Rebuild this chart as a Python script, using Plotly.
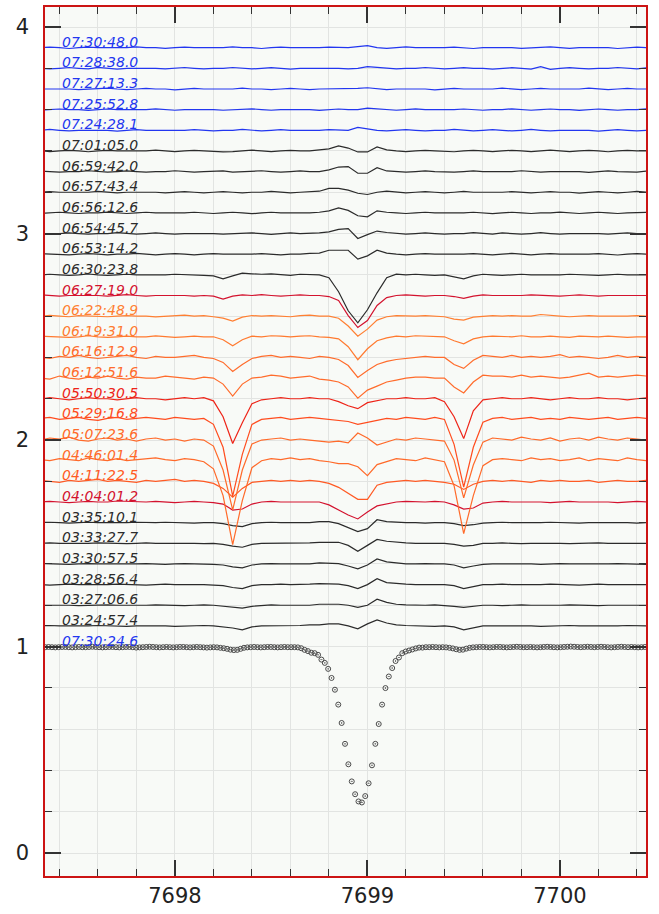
import numpy as np
import plotly.graph_objects as go

# ---------------- data ----------------
# common wavelength grid of the offset spectra (Angstrom)
WAVE_START, WAVE_STEP, WAVE_N = 7697.30, 0.05, 64
# reference spectrum (circles) grid
REF_START, REF_STEP, REF_N = 7697.326, 0.0175, 179

# flux deviations from continuum, in units of 0.001, one list per spectrum (bottom -> top)
F_032457 = [0, 2, 0, 0, -2, 0, 2, 0, 0, -2, 0, 0, 2, 0, -2, 0,
            0, 2, 0, -5, -10, -19, -5, 0, 0, 2, 0, 2, 5, 5, 10, 10,
            0, -14, 10, 29, 14, 5, 2, 0, 0, -2, 0, -5, -19, -10, 0, 0,
            0, 2, 0, 0, -2, 0, 0, 2, 0, 0, -2, 0, 0, 2, 0, 0]
F_032706 = [0, 0, 2, 0, -2, 0, 0, 2, 0, 0, -2, 0, 2, 0, 0, -2,
            0, 2, 0, -5, -10, -14, -5, 0, 2, 0, 0, 2, 0, 5, 5, 5,
            0, -10, 0, 29, 14, 5, 2, 0, 0, 2, 0, -5, -10, -5, 0, 0,
            -2, 0, 2, 0, 0, -2, 0, 2, 0, 0, -2, 0, 0, 2, 0, 0]
F_032856 = [0, -2, 0, 2, 0, 0, -2, 0, 2, 0, 0, -2, 0, 2, 0, 0,
            2, 0, -2, -5, -14, -19, -5, 0, 0, 2, 0, 0, 2, 5, 5, 2,
            -5, -19, 0, 29, 10, 5, 2, 0, 0, -2, 0, -5, -19, -10, 0, 0,
            2, 0, 0, -2, 0, 2, 0, 0, -2, 0, 2, 0, 0, -2, 0, 0]
F_033057 = [2, 0, 0, -2, 0, 2, 0, 0, -2, 0, 0, 2, 0, -2, 0, 2,
            0, 0, -2, -5, -14, -19, -5, 0, 2, 0, 0, 2, 0, 5, 5, 2,
            -10, -24, -5, 24, 10, 5, 0, 0, 2, 0, 0, -5, -19, -10, -2, 0,
            0, 2, 0, 0, -2, 0, 2, 0, 0, -2, 0, 0, 2, 0, 0, -2]
F_033327 = [0, 2, 0, 0, -2, 0, 2, 0, 0, -2, 0, 2, 0, 0, 2, 0,
            0, -2, 0, -5, -14, -19, -5, 0, 0, 2, 0, 0, 2, 5, 5, 5,
            -10, -39, -10, 19, 10, 5, 2, 0, 0, -2, 0, -5, -14, -10, 0, 0,
            2, 0, -2, 0, 0, 2, 0, -2, 0, 0, 2, 0, 0, -2, 0, 0]
F_033510 = [0, 2, 0, -2, 0, 2, 0, 0, -2, 0, 2, 0, 0, 2, 0, 0,
            -2, 0, 0, -5, -14, -19, -5, 0, 2, 0, 0, 2, 0, 5, 5, -5,
            -24, -43, -29, 14, 5, 2, 0, 0, -2, 0, 0, -5, -14, -10, -2, 0,
            2, 0, 0, -2, 0, 2, 0, 0, -2, 0, 0, 2, 0, 0, -2, 0]
F_040401 = [0, 3, 0, -3, 0, 3, 0, 0, 5, 3, 0, 0, 3, 0, -3, 0,
            3, 0, -3, -10, -39, -34, -10, 0, 3, 0, 0, 3, 0, 0, -14, -39,
            -63, -82, -48, -19, -10, 0, 3, 0, 0, 3, 0, -14, -34, -29, -5, 0,
            3, 0, 0, 3, 0, -3, 0, 3, 0, 0, 3, 0, -3, 0, 3, 0]
F_041122 = [5, 0, -5, 5, 0, 5, 10, 0, 5, 0, -5, 5, 0, 5, 10, 0,
            5, 0, -10, -34, -77, -34, -5, 0, 5, 0, 5, 0, 5, 0, -10, -29,
            -58, -87, -87, -19, -5, 0, 5, 0, 5, 0, -5, -14, -39, -14, 0, 5,
            0, 5, 0, -5, 5, 0, 5, 0, 0, 5, -5, 0, 5, 0, 0, 5]
F_044601 = [5, 0, 10, 5, 0, 14, 5, 0, 10, 0, 5, 10, 14, 5, 0, 10,
            5, -5, -39, -169, -406, -193, -34, 0, 10, 5, 14, 5, 10, 0, -5, -14,
            -14, -29, -72, -19, -5, 10, 5, 0, 14, 5, -5, -121, -353, -169, -24, 5,
            10, 5, 0, 14, 5, 10, 0, 5, 14, 0, 10, 5, 0, 14, 5, 0]
F_050723 = [0, 10, 5, 14, 0, -5, 5, 10, 0, 5, -5, 5, 10, 0, 5, -5,
            5, 0, -29, -145, -338, -145, -19, 0, 5, 10, 0, 5, 0, -5, -10, -5,
            -14, 34, 10, -24, -10, 5, 0, 10, 5, 0, -5, -97, -280, -121, -10, 10,
            5, 0, 14, 5, 0, 10, -5, 5, 10, 0, 14, 5, 0, 10, 5, 0]
F_052916 = [5, 10, 0, 5, 10, 0, -5, 5, 10, 0, 5, 10, 5, 0, 10, 5,
            0, 5, -24, -135, -372, -169, -24, 0, 5, 10, 0, 5, 10, 5, 0, -5,
            -10, -24, -14, -5, 5, 0, 10, 5, 0, 10, 0, -121, -328, -135, -14, 5,
            10, 0, 5, 10, 0, 5, 0, 10, 5, 0, 5, 10, 0, 5, 10, 5]
F_055030 = [0, 5, 0, -5, 0, 5, 0, 0, -5, 0, 5, 0, 0, -5, 0, 5,
            0, 5, -10, -87, -217, -116, -24, -5, 0, 5, 0, 0, 5, 0, 0, -14,
            -34, -48, -19, -10, 0, 0, 5, 0, 0, 5, -14, -87, -193, -58, -5, 0,
            5, 0, 0, 5, 0, -5, 0, 5, 0, 0, 5, 0, 0, -5, 0, 5]
F_061251 = [0, -5, 10, 0, -5, 5, 0, 10, 0, -5, 5, 0, 0, 10, 5, 0,
            -5, 5, 0, -29, -87, -29, 0, 5, 14, 10, 0, 5, 10, -5, -10, -19,
            -43, -97, -58, -39, -19, -10, 0, 5, 5, 0, 0, -43, -72, -19, 14, 10,
            10, 5, 14, 5, 10, 5, 0, 5, 14, 24, 5, 10, 5, 10, 14, 10]
F_061612 = [0, -5, 5, 0, 10, 0, -5, 0, 5, 10, 0, -5, 5, 0, 0, 5,
            10, 0, -5, -24, -68, -34, -5, 5, 10, 0, 5, 0, -5, 5, 0, -10,
            -39, -97, -63, -34, -19, -10, -5, 0, 5, 0, 0, -34, -53, -14, 10, 5,
            0, 10, 0, 5, 0, 5, 14, 0, 5, 0, -5, 0, 10, 0, 5, 0]
F_061931 = [3, 0, 0, -3, 0, 5, 0, -3, 0, 3, 0, 0, 4, 0, -3, 0,
            3, 0, 0, -14, -43, -14, 3, 0, 5, 3, 0, 3, 5, 0, -3, -10,
            -48, -111, -58, -19, -5, 3, 0, 5, 3, 0, 0, -19, -34, -10, 0, 3,
            3, 0, 5, 0, 0, 3, 0, -3, 3, 0, 0, 3, 0, -3, 0, 0]
F_062248 = [0, 4, 0, -3, 3, 0, 0, -3, 0, 3, 0, 0, -4, 0, 3, 5,
            0, 3, -3, -10, -24, -5, 3, 0, 3, 0, -3, 3, 5, 0, 0, -10,
            -48, -97, -63, -19, -3, 3, 0, 0, 3, 0, -3, -14, -19, -5, 0, 3,
            0, 3, 0, 0, 8, 3, 0, -3, 0, 3, 0, 0, -3, 0, 3, 0]
F_062719 = [3, 0, -3, 0, 0, 3, 0, -3, 0, 4, 0, -3, 0, 0, 3, 0,
            -3, 0, -3, -17, -3, 3, 0, 4, 0, -3, 0, 3, 0, 0, -5, -24,
            -97, -155, -121, -48, -10, 0, 3, 0, -3, 0, 0, -5, -14, -3, 3, 0,
            0, -3, 0, 3, 0, 0, -3, 0, 3, 0, -3, 0, 0, 3, 0, 0]
F_063023 = [0, 3, 0, -3, 0, 4, 0, -3, 0, 3, 0, 0, -3, 0, 3, 0,
            0, -3, -5, -19, -5, 8, 5, 3, 5, 0, -3, 3, 0, 0, -14, -82,
            -174, -232, -169, -87, -14, 3, 0, 3, 0, -3, 0, -10, -19, -5, 3, 0,
            -3, 0, 3, 0, 0, -3, 0, 3, 0, 0, -3, 0, 3, 0, 0, 0]
F_065314 = [3, 0, 0, -3, 0, 3, 0, -3, 0, 0, 4, 0, -3, 0, 3, 0,
            -3, 0, 3, 0, 0, -3, 0, 3, 0, -3, 0, 0, 4, 5, 19, 19,
            19, -24, -8, 19, 5, 0, -3, 0, 3, 0, 0, -3, 0, 3, 0, -3,
            0, 4, 0, -3, 0, 3, 0, 0, -3, 0, 3, 0, -4, 0, 3, 0]
F_065445 = [0, -3, 0, 3, 0, -3, 0, 0, 4, 0, -3, 0, 3, 0, -3, 0,
            0, 3, 0, -3, 0, 0, 3, 0, -4, 0, 3, 0, 0, 3, 8, 20,
            24, -24, -5, 12, 5, 0, -3, 0, 3, 0, -3, 0, 0, 4, 0, -3,
            3, 0, -3, 0, 4, 0, -3, 0, 0, 3, 0, -3, 0, 3, 0, 0]
F_065612 = [-3, 0, 3, 0, -3, 0, 0, 4, 0, -3, 0, 3, 0, 0, -3, 0,
            3, 0, -3, 0, 3, 0, -4, 0, 3, 0, 0, -3, 0, 3, 10, 24,
            12, -14, -19, 10, 3, 0, -3, 0, 3, 0, 0, -3, 0, 3, 0, -4,
            0, 3, 0, -3, 0, 0, 4, 0, -3, 0, 3, 0, -3, 0, 0, 3]
F_065743 = [0, 3, 0, 0, -3, 0, 4, 0, -3, 0, 0, 3, 0, -3, 0, 3,
            0, -3, 0, 3, 0, -3, 0, 0, 4, 0, -3, 0, 3, 5, 19, 19,
            10, -5, -11, 0, 5, 0, -3, 0, 3, 0, -3, 0, 4, 0, 0, -3,
            0, 3, 0, -3, 0, 3, 0, 0, -4, 0, 3, 0, -3, 0, 4, 0]
F_065942 = [3, 0, -3, 0, 0, 4, 0, -3, 0, 3, 0, -3, 0, 0, 4, 0,
            -3, 0, 0, 3, -3, 0, 0, 4, 0, -3, 0, 3, 0, 0, 8, 22,
            24, -8, -8, 19, 3, 0, -3, 0, 3, 0, -3, -3, 0, 3, 0, 0,
            -3, 0, 4, 0, -3, 0, 0, 3, 0, -4, 0, 3, 0, 0, -3, 3]
F_070105 = [0, -3, 0, 3, 0, -4, 0, 3, 0, 0, -3, 0, 4, 0, -3, 0,
            3, 0, -3, -5, -3, 0, 4, 0, -3, 0, 3, 0, 0, 5, 10, 24,
            14, -5, -5, 19, 5, 0, -3, 0, 3, 0, -3, -4, 0, 3, 0, -3,
            0, 3, 0, -3, 0, 4, 0, -3, 0, 3, 0, -4, 0, 3, 0, 0]
F_072428 = [0, 4, 0, -3, 0, 0, 3, 0, -4, 0, 3, 0, 0, -3, 0, 0,
            3, 0, -3, 0, 0, 4, 0, -3, 0, 3, 0, 0, -3, 0, 3, 0,
            0, 14, 6, 0, -3, 0, 3, 0, -3, 0, 0, 4, 0, -3, 0, 3,
            0, -3, 0, 4, 0, -3, 0, 0, 3, 0, -4, 0, 3, 0, -3, 0]
F_072552 = [-3, 0, 3, 0, 0, -4, 0, 3, 0, 0, -3, 0, 4, 0, -3, 0,
            0, 3, 0, -3, 0, 0, 4, 0, -3, 0, 0, 3, 0, -4, 0, 3,
            0, 0, 7, 3, 0, -3, 0, 4, 0, 0, -3, 0, 3, 0, -3, 0,
            0, 4, 0, -3, 0, 3, 0, 0, -4, 0, 3, 0, -3, 0, 0, 4]
F_072713 = [0, 0, 3, 0, -3, 0, 0, 4, 0, -3, 0, 3, 0, 0, -4, 0,
            3, 0, 0, -3, 0, 4, 0, 0, -3, 0, 3, 0, -3, 0, 0, 3,
            0, 3, 6, 0, -3, 0, 0, 3, 0, -4, 0, 3, 0, 0, -3, 0,
            4, 0, -3, 0, 3, 0, 0, -3, 0, 4, 0, -3, 0, 3, 0, 0]
F_072838 = [0, -3, 0, 4, 0, -3, 5, 0, -4, 0, 0, 3, 0, -3, 0, 4,
            0, -3, 0, 0, 4, 0, -3, 0, 3, 0, -4, 0, 0, 3, 0, 0,
            -3, 0, 8, 4, 0, -3, 0, 0, 4, 0, -3, 0, 3, 0, 0, -4,
            0, 3, 0, -4, 8, -5, 0, 3, 0, -3, 0, 0, 4, 0, -3, 3]
F_073048 = [0, 3, 0, -4, 0, 3, 0, 0, -3, 0, 4, 0, 0, -3, 0, 3,
            0, 0, -3, 0, 4, 0, 0, -4, 0, 3, 0, 0, -3, 0, 3, 0,
            0, 5, 10, 0, -3, 0, 4, 0, 0, -3, 0, 3, 0, -4, 0, 0,
            3, 0, -3, 0, 0, 4, 0, -3, 0, 0, 3, 0, -4, 0, 3, 0]

# reference spectrum shown with circles (normalised flux)
REF_FLUX = [0.997, 0.998, 0.997, 0.996, 0.997, 0.998, 0.998, 0.997, 0.996, 0.997,
            0.998, 0.997, 0.997, 0.998, 0.999, 0.998, 0.997, 0.996, 0.997, 0.998,
            0.998, 0.997, 0.996, 0.997, 0.998, 0.998, 0.997, 0.995, 0.996, 0.997,
            0.998, 0.999, 0.998, 0.997, 0.996, 0.997, 0.998, 0.997, 0.996, 0.997,
            0.998, 0.998, 0.997, 0.996, 0.997, 0.998, 0.997, 0.996, 0.995, 0.996,
            0.997, 0.996, 0.994, 0.992, 0.989, 0.985, 0.983, 0.984, 0.989, 0.994,
            0.996, 0.997, 0.998, 0.997, 0.996, 0.997, 0.998, 0.998, 0.997, 0.996,
            0.997, 0.998, 0.997, 0.997, 0.997, 0.996, 0.992, 0.984, 0.978, 0.970,
            0.968, 0.960, 0.937, 0.921, 0.892, 0.848, 0.791, 0.719, 0.630, 0.529,
            0.430, 0.347, 0.285, 0.250, 0.245, 0.276, 0.338, 0.425, 0.529, 0.625,
            0.719, 0.799, 0.855, 0.896, 0.930, 0.947, 0.968, 0.976, 0.981, 0.986,
            0.991, 0.995, 0.995, 0.997, 0.997, 0.998, 0.997, 0.996, 0.997, 0.996,
            0.994, 0.991, 0.987, 0.984, 0.985, 0.990, 0.994, 0.996, 0.997, 0.998,
            0.998, 0.997, 0.996, 0.997, 0.998, 0.998, 0.997, 0.996, 0.997, 0.998,
            0.999, 0.998, 0.997, 0.997, 0.998, 0.997, 0.996, 0.997, 0.998, 0.999,
            0.998, 0.997, 0.996, 0.997, 0.998, 0.999, 1.000, 0.999, 0.998, 0.997,
            0.998, 0.999, 0.998, 0.997, 0.998, 0.999, 0.998, 0.997, 0.996, 0.997,
            0.998, 0.999, 0.998, 0.997, 0.998, 0.997, 0.996, 0.997, 0.998]
REF_LABEL = "07:30:24.6"

# bottom -> top
LABELS = ["03:24:57.4", "03:27:06.6", "03:28:56.4", "03:30:57.5", "03:33:27.7", "03:35:10.1",
          "04:04:01.2", "04:11:22.5", "04:46:01.4", "05:07:23.6", "05:29:16.8", "05:50:30.5",
          "06:12:51.6", "06:16:12.9", "06:19:31.0", "06:22:48.9", "06:27:19.0", "06:30:23.8",
          "06:53:14.2", "06:54:45.7", "06:56:12.6", "06:57:43.4", "06:59:42.0", "07:01:05.0",
          "07:24:28.1", "07:25:52.8", "07:27:13.3", "07:28:38.0", "07:30:48.0"]
SERIES = [F_032457, F_032706, F_032856, F_033057, F_033327, F_033510,
          F_040401, F_041122, F_044601, F_050723, F_052916, F_055030,
          F_061251, F_061612, F_061931, F_062248, F_062719, F_063023,
          F_065314, F_065445, F_065612, F_065743, F_065942, F_070105,
          F_072428, F_072552, F_072713, F_072838, F_073048]
OFFSET_STEP = 0.1

BLACK, BLUE, CRIMSON = "#2b2b2b", "#2236f0", "#d3122e"
COLORS = [BLACK] * 6 + [CRIMSON, "#ff5a24", "#ff6a2a", "#ff6a2a", "#ff4c1e", "#ee2418",
                        "#ff6c2c", "#ff6c2c", "#ff7a30", "#ff7f32", CRIMSON, BLACK] + [BLACK] * 6 + [BLUE] * 5

# ---------------- figure ----------------
wave = np.round(WAVE_START + WAVE_STEP * np.arange(WAVE_N), 4)
ref_wave = np.round(REF_START + REF_STEP * np.arange(REF_N), 4)

fig = go.Figure()
fig.add_trace(go.Scatter(x=ref_wave, y=REF_FLUX, mode="markers",
                         marker=dict(symbol="circle-open-dot", size=5, color="#4a4a4a",
                                     line=dict(width=1, color="#4a4a4a")),
                         hoverinfo="skip"))

annotations = [dict(x=7697.403, y=1.0, text=REF_LABEL, showarrow=False, xanchor="left",
                    yanchor="bottom", yshift=-4,
                    font=dict(family="DejaVu Sans", size=14, color=BLUE, style="italic"))]

for i, (lab, vals, col) in enumerate(zip(LABELS, SERIES, COLORS)):
    off = OFFSET_STEP * (i + 1)
    y = 1.0 + np.array(vals) / 1000.0 + off
    fig.add_trace(go.Scatter(x=wave, y=y, mode="lines",
                             line=dict(color=col, width=1.2), hoverinfo="skip"))
    annotations.append(dict(x=7697.403, y=1.0 + off, text=lab, showarrow=False,
                            xanchor="left", yanchor="bottom", yshift=-4,
                            font=dict(family="DejaVu Sans", size=14, color=col, style="italic")))

axis_common = dict(showline=True, linecolor="#cc1414", linewidth=1.5, mirror="allticks",
                   ticks="inside", ticklen=16, tickwidth=1.5, tickcolor="#333333",
                   showgrid=True, gridcolor="#e2e4e2", gridwidth=1, zeroline=False,
                   tickfont=dict(family="DejaVu Sans", size=21, color="#222222"))

fig.update_xaxes(range=[7697.325, 7700.447], tick0=7698, dtick=1,
                 minor=dict(tick0=7698, dtick=0.2, ticks="inside", ticklen=7, tickwidth=1,
                            tickcolor="#333333", showgrid=True, gridcolor="#e2e4e2"),
                 **axis_common)
fig.update_yaxes(range=[-0.111, 4.097], tick0=0, dtick=1, ticklabelstandoff=10,
                 minor=dict(tick0=0, dtick=0.2, ticks="inside", ticklen=7, tickwidth=1,
                            tickcolor="#333333", showgrid=True, gridcolor="#e2e4e2"),
                 **axis_common)

fig.update_layout(width=659, height=914, margin=dict(l=45, r=13, t=5, b=38),
                  plot_bgcolor="#f8faf7", paper_bgcolor="white", showlegend=False,
                  annotations=annotations)

fig.write_html("out.html")
